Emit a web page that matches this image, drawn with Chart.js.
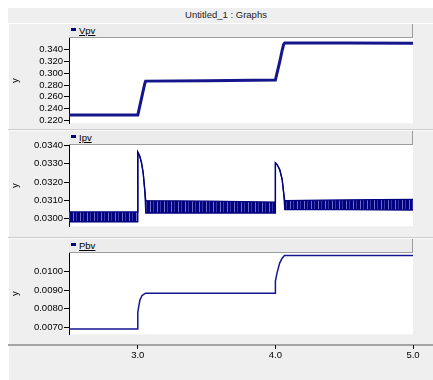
<!DOCTYPE html>
<html>
<head>
<meta charset="utf-8">
<script src="https://cdn.jsdelivr.net/npm/chart.js@4.4.0/dist/chart.umd.min.js"></script>
<style>
body { margin:0; width:433px; height:380px; overflow:hidden; background:#fff; font-family:"Liberation Sans", Arial, sans-serif; }
.abs { position:absolute; }
#frame { left:8px; top:8px; width:425px; height:372px; background:#efefef; }
#title { left:126px; top:9px; width:200px; text-align:center; font-size:9.5px; color:#222; }
.hline { left:8px; width:425px; height:1px; }
.legend { left:69px; width:343px; height:13px; background:#ececec; border-right:1px solid #9c9c9c; border-bottom:1px solid #9c9c9c; }
.legend .sw { position:absolute; left:2px; top:4px; width:5px; height:3px; background:#000080; }
.legend .txt { position:absolute; left:10px; top:1px; font-size:9.5px; color:#000; text-decoration:underline; }
canvas { position:absolute; }
</style>
</head>
<body>
<div id="frame" class="abs"></div>
<div id="title" class="abs">Untitled_1 : Graphs</div>
<div class="abs hline" style="top:23px;background:#fff"></div>
<div class="abs" style="left:8px;top:24px;width:1px;height:356px;background:#fff"></div>
<div class="abs hline" style="top:129px;background:#cdcdcd"></div>
<div class="abs hline" style="top:130px;background:#fafafa"></div>
<div class="abs hline" style="top:237px;background:#cdcdcd"></div>
<div class="abs hline" style="top:238px;background:#fafafa"></div>
<div class="abs hline" style="top:344px;height:2px;background:#a4a4a4"></div>

<canvas id="c1" style="left:8px;top:24px" width="405" height="106"></canvas>
<canvas id="c2" style="left:8px;top:131px" width="405" height="102"></canvas>
<canvas id="c3" style="left:8px;top:239px" width="405" height="102"></canvas>
<canvas id="cx" style="left:8px;top:340px" width="425" height="40"></canvas>

<div id="lg1" class="abs legend" style="top:24px"></div>
<div id="lg2" class="abs legend" style="top:131px"></div>
<div id="lg3" class="abs legend" style="top:239px"></div>

<script>
// time axis
var timeTicks = [3.0, 4.0, 5.0];

// Vpv trace
var vpvTime  = [2.5, 3.0, 3.01, 3.03, 3.05, 3.057, 3.5, 4.0, 4.01, 4.03, 4.05, 4.06, 4.068, 4.5, 5.0];
var vpvValue = [0.2290, 0.2290, 0.2395, 0.2607, 0.2818, 0.2867, 0.2875, 0.2885, 0.2985, 0.3180, 0.3400, 0.3490, 0.3515, 0.3515, 0.3512];
var vpvTicks = [0.22, 0.24, 0.26, 0.28, 0.30, 0.32, 0.34];

// Ipv trace (ripple band: upper / lower envelope)
var ipvTime  = [2.5, 3.0, 3.0, 3.015, 3.027, 3.039, 3.051, 3.058, 3.5, 4.0, 4.0, 4.012, 4.031, 4.049, 4.061, 4.068, 4.5, 5.0];
var ipvUpper = [0.03036, 0.03036, 0.03364, 0.03340, 0.03305, 0.03251, 0.03152, 0.03098, 0.03095, 0.03090, 0.03305, 0.03296, 0.03269, 0.03215, 0.03134, 0.03098, 0.03102, 0.03105];
var ipvLower = [0.02982, 0.02982, 0.03364, 0.03340, 0.03305, 0.03251, 0.03152, 0.03030, 0.03030, 0.03030, 0.03305, 0.03296, 0.03269, 0.03215, 0.03134, 0.03048, 0.03048, 0.03046];
var ipvTicks = [0.030, 0.031, 0.032, 0.033, 0.034];

// Pvv trace
var pvvTime  = [2.5, 3.0, 3.0, 3.005, 3.015, 3.03, 3.05, 3.06, 3.5, 4.0, 4.0, 4.012, 4.031, 4.049, 4.066, 4.5, 5.0];
var pvvValue = [0.00692, 0.00692, 0.00780, 0.00805, 0.00845, 0.00870, 0.00881, 0.00883, 0.00883, 0.00883, 0.00948, 0.00992, 0.01044, 0.01070, 0.01084, 0.01084, 0.01084];
var pvvTicks = [0.007, 0.008, 0.009, 0.010];

var FONT = {family: '"Liberation Sans", Arial, sans-serif', size: 9.5};
var NAVY = '#000080';

function pts(xs, ys) {
  return xs.map(function(x, i) { return {x: x, y: ys[i]}; });
}

// striped fill for the ripple band
function ripplePattern() {
  var c = document.createElement('canvas');
  c.width = 7; c.height = 1;
  var g = c.getContext('2d');
  g.fillStyle = NAVY; g.fillRect(0, 0, 7, 1);
  g.fillStyle = 'rgba(120,120,200,0.9)'; g.fillRect(2, 0, 1, 1);
  g.fillStyle = 'rgba(60,60,170,0.9)'; g.fillRect(5, 0, 1, 1);
  return g.createPattern(c, 'repeat');
}

var whiteArea = {
  id: 'whiteArea',
  beforeDraw: function(chart) {
    var a = chart.chartArea, ctx = chart.ctx;
    ctx.save();
    ctx.fillStyle = '#fff';
    ctx.fillRect(a.left, a.top, a.right - a.left, a.bottom - a.top);
    ctx.restore();
  }
};

function panel(id, legendId, datasets, yMin, yMax, yTicks, dec) {
  var chart = new Chart(document.getElementById(id), {
    type: 'line',
    data: {datasets: datasets},
    options: {
      responsive: false,
      animation: false,
      layout: {padding: {top: 14, bottom: 5, left: 0, right: 0}},
      plugins: {legend: {display: false}, tooltip: {enabled: false}},
      elements: {point: {radius: 0}, line: {tension: 0}},
      scales: {
        x: {type: 'linear', min: 2.5, max: 5.0, display: false},
        y: {
          min: yMin, max: yMax,
          afterBuildTicks: function(s) { s.ticks = yTicks.map(function(v) { return {value: v}; }); },
          afterFit: function(s) { s.width = 61; },
          ticks: {font: FONT, color: '#000', padding: 1, callback: function(v) { return Number(v).toFixed(dec); }},
          grid: {drawOnChartArea: false, drawTicks: true, tickLength: 5, color: '#000'},
          border: {color: '#000', width: 1},
          title: {display: true, text: 'y', font: FONT, color: '#000', padding: {top: 2, bottom: 0}}
        }
      }
    },
    plugins: [whiteArea]
  });
  // legend bar built from dataset label
  document.getElementById(legendId).innerHTML =
    '<div class="sw"></div><div class="txt">' + chart.data.datasets[0].label + '</div>';
  return chart;
}

panel('c1', 'lg1', [{
  label: 'Vpv', data: pts(vpvTime, vpvValue),
  borderColor: '#16168c', borderWidth: 3, fill: false
}], 0.215, 0.360, vpvTicks, 3);

panel('c2', 'lg2', [{
  label: 'Ipv', data: pts(ipvTime, ipvUpper),
  borderColor: NAVY, borderWidth: 1.3, fill: false
}, {
  label: 'Ipv low', data: pts(ipvTime, ipvLower),
  borderColor: NAVY, borderWidth: 1.3, fill: '-1', backgroundColor: ripplePattern()
}], 0.02957, 0.034032, ipvTicks, 4);

panel('c3', 'lg3', [{
  label: 'Pbv', data: pts(pvvTime, pvvValue),
  borderColor: '#141490', borderWidth: 1.5, fill: false
}], 0.006634, 0.010979, pvvTicks, 4);

// shared time axis along the bottom
new Chart(document.getElementById('cx'), {
  type: 'line',
  data: {datasets: []},
  options: {
    responsive: false,
    animation: false,
    layout: {padding: {top: 3, bottom: 15, left: 61, right: 20}},
    plugins: {legend: {display: false}, tooltip: {enabled: false}},
    scales: {
      x: {
        type: 'linear', min: 2.5, max: 5.0,
        afterBuildTicks: function(s) { s.ticks = timeTicks.map(function(v) { return {value: v}; }); },
        afterFit: function(s) { s.height = 20; },
        ticks: {font: FONT, color: '#000', padding: 1, maxRotation: 0, callback: function(v) { return Number(v).toFixed(1); }},
        grid: {drawOnChartArea: false, drawTicks: true, tickLength: 4, color: '#000'},
        border: {display: false}
      },
      y: {display: false}
    }
  }
});
</script>
</body>
</html>
